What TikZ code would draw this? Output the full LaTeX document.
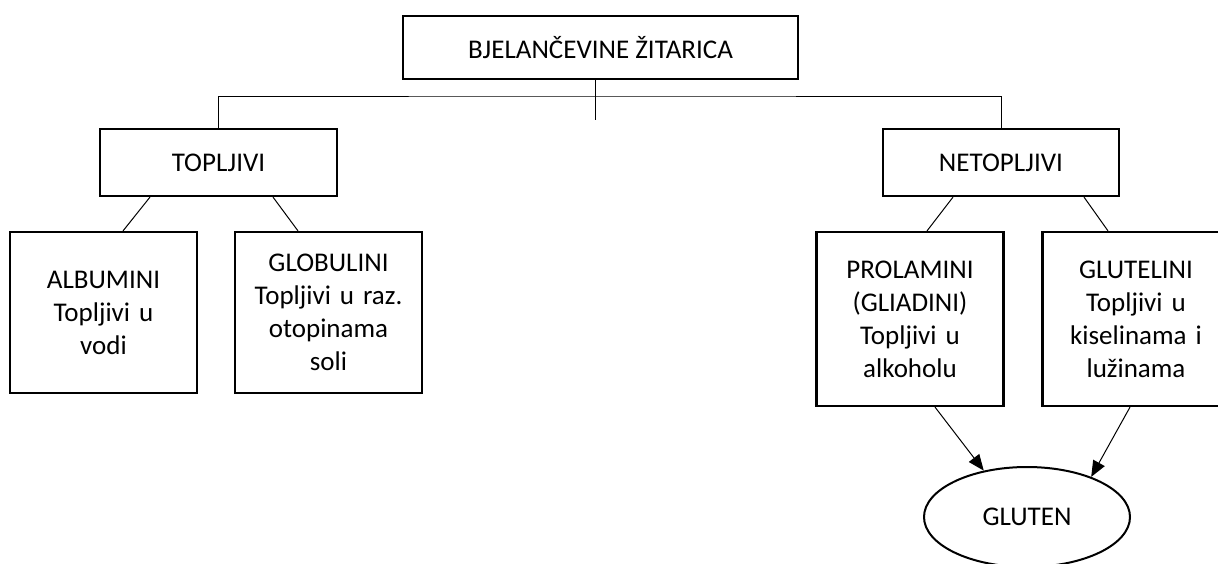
\documentclass[tikz,border=0pt]{standalone}
\usepackage{fontspec}
\setmainfont{Carlito}
\usetikzlibrary{arrows.meta,shapes.geometric}

\begin{document}
\begin{tikzpicture}[
    x=1pt, y=-1pt,
    root/.style={
        rectangle,
        draw=black,
        line width=2.2pt,
        minimum width=395pt,
        minimum height=63pt,
        font=\fontsize{27}{33}\selectfont
    },
    group/.style={
        rectangle,
        draw=black,
        line width=2.2pt,
        minimum width=237pt,
        minimum height=67pt,
        font=\fontsize{27}{33}\selectfont
    },
    leaf/.style={
        rectangle,
        draw=black,
        line width=2.2pt,
        minimum width=187pt,
        text width=178pt,
        align=center,
        font=\fontsize{27}{33}\selectfont
    },
    result/.style={
        ellipse,
        draw=black,
        line width=2pt,
        minimum width=206pt,
        minimum height=100pt,
        font=\fontsize{27}{33}\selectfont
    },
    link/.style={draw, line width=1pt},
    arrow/.style={draw, line width=1pt, -{Triangle[length=16pt,width=13pt]}}
]
\useasboundingbox (0,0) rectangle (1218,563);

% Root
\node[root] (root) at (600.5,47.5) {BJELANČEVINE ŽITARICA};
\coordinate (bar) at (595,96);
\coordinate (stem) at (595,120);

% Topljivi
\node[group] (topljivi) at (218.5,162.5) {TOPLJIVI};
\node[leaf, minimum height=161pt] (albumini) at (103.5,312.5) {ALBUMINI\\Topljivi u\\vodi};
\node[leaf, minimum height=161pt] (globulini) at (328.5,312.5) {GLOBULINI\\Topljivi u raz.\\otopinama\\soli};

% Netopljivi
\node[group, minimum width=236pt] (netopljivi) at (1001,162.5) {NETOPLJIVI};
\node[leaf, minimum height=174pt] (prolamini) at (910,319) {PROLAMINI\\(GLIADINI)\\Topljivi u\\alkoholu};
\node[leaf, minimum height=174pt] (glutelini) at (1136,319) {GLUTELINI\\Topljivi u\\kiselinama i\\lužinama};

% Gluten
\node[result] (gluten) at (1027,517) {GLUTEN};

% Connectors
\draw[link] (root.south -| stem) -- (stem);
\draw[link] (topljivi.north) |- (bar) -| (netopljivi.north);
\draw[link] ([xshift=-68.5pt]topljivi.south) -- ([xshift=19.5pt]albumini.north);
\draw[link] ([xshift=54.5pt]topljivi.south) -- ([xshift=-30.5pt]globulini.north);
\draw[link] ([xshift=-48pt]netopljivi.south) -- ([xshift=17pt]prolamini.north);
\draw[link] ([xshift=83pt]netopljivi.south) -- ([xshift=-28pt]glutelini.north);
\draw[arrow] ([xshift=25pt]prolamini.south) -- (gluten.133);
\draw[arrow] ([xshift=-6pt]glutelini.south) -- (gluten.32);

\end{tikzpicture}
\end{document}
